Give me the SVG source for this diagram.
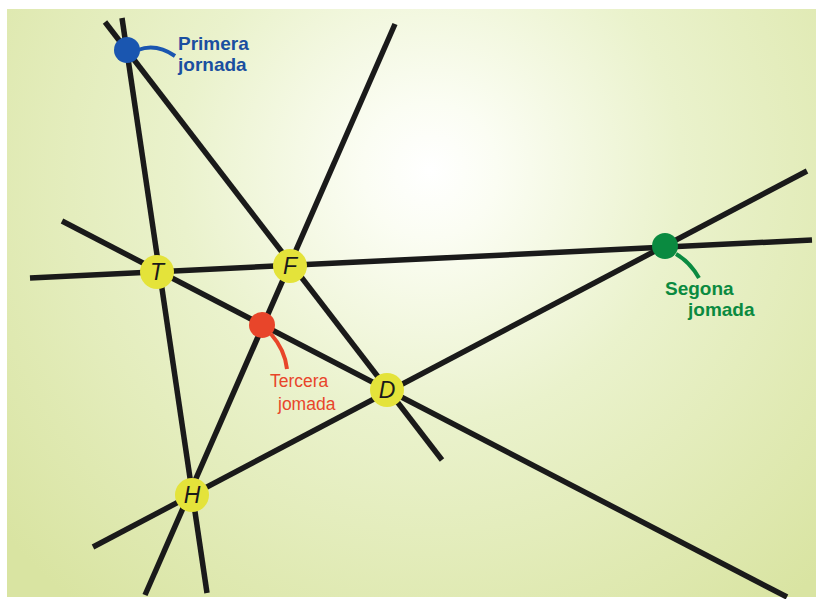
<svg xmlns="http://www.w3.org/2000/svg" width="816" height="599" viewBox="0 0 816 599">
<defs>
<radialGradient id="bg" gradientUnits="userSpaceOnUse" cx="430" cy="170" r="560">
<stop offset="0" stop-color="#ffffff"/>
<stop offset="0.12" stop-color="#fbfdf3"/>
<stop offset="0.45" stop-color="#eaf2cc"/>
<stop offset="1" stop-color="#d9e4a2"/>
</radialGradient>
<style>
.ln{stroke:#1a1a1a;stroke-width:5.5;fill:none;stroke-linecap:butt}
.nd{fill:#e4e33a}
.nl{font-family:"Liberation Sans",Arial,sans-serif;font-style:italic;font-size:23px;fill:#1a1a1a;text-anchor:middle}
.lb{font-family:"Liberation Sans",Arial,sans-serif;font-size:17.5px}
.bd{font-weight:bold;font-size:19px}
</style>
</defs>
<rect width="816" height="599" fill="#ffffff"/>
<rect x="7" y="9" width="809" height="588" fill="url(#bg)"/>
<g id="connectors">
<line class="ln" x1="105" y1="22" x2="442" y2="460"/>
<line class="ln" x1="122" y1="18" x2="207" y2="593"/>
<line class="ln" x1="395" y1="24" x2="145" y2="595"/>
<line class="ln" x1="30" y1="278" x2="812" y2="240"/>
<line class="ln" x1="62" y1="221" x2="787" y2="597"/>
<line class="ln" x1="93" y1="547" x2="807" y2="171"/>
<path d="M138,50 Q156,43 175,56" stroke="#1a56b0" stroke-width="4" fill="none"/>
<path d="M676,254 Q690,262 699,278" stroke="#0a8a40" stroke-width="4" fill="none"/>
<path d="M271,334 Q285,350 287,369" stroke="#e8452a" stroke-width="4" fill="none"/>
</g>
<g id="node-T"><circle class="nd" cx="157" cy="272" r="17"/><text class="nl" x="157" y="280">T</text></g>
<g id="node-F"><circle class="nd" cx="290" cy="266" r="17"/><text class="nl" x="290" y="274">F</text></g>
<g id="node-D"><circle class="nd" cx="387" cy="390" r="17"/><text class="nl" x="387" y="398">D</text></g>
<g id="node-H"><circle class="nd" cx="192" cy="495" r="17"/><text class="nl" x="192" y="503">H</text></g>
<g id="primera"><circle cx="127" cy="50" r="13" fill="#1a56b0"/>
<text class="lb bd" fill="#1a4fa0" x="178" y="50">Primera</text>
<text class="lb bd" fill="#1a4fa0" x="178" y="71">jornada</text></g>
<g id="segona"><circle cx="665" cy="246" r="13" fill="#0a8a40"/>
<text class="lb bd" fill="#0a8a40" x="665" y="295">Segona</text>
<text class="lb bd" fill="#0a8a40" x="688" y="316">jomada</text></g>
<g id="tercera"><circle cx="262" cy="325" r="13" fill="#e8452a"/>
<text class="lb" fill="#e8452a" x="270" y="387">Tercera</text>
<text class="lb" fill="#e8452a" x="278" y="410">jomada</text></g>
</svg>
